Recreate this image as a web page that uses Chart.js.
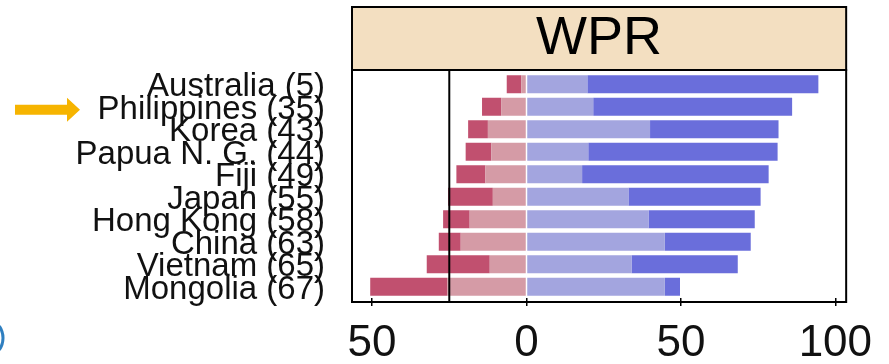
<!DOCTYPE html>
<html>
<head>
<meta charset="utf-8">
<script src="https://cdn.jsdelivr.net/npm/chart.js@4/dist/chart.umd.min.js"></script>
<style>
  html, body { margin: 0; padding: 0; background: #ffffff; }
  #wrap { width: 889px; height: 364px; position: relative; }
</style>
</head>
<body>
<div id="wrap"><canvas id="c" width="889" height="364"></canvas></div>
<script>
const countries = ['Australia (5)', 'Philippines (35)', 'Korea (43)', 'Papua N. G. (44)', 'Fiji (49)', 'Japan (55)', 'Hong Kong (58)', 'China (63)', 'Vietnam (65)', 'Mongolia (67)'];
const stronglyDisagree = [-4.7, -6.2, -6.4, -8.3, -9.4, -14.5, -8.6, -7.1, -20.4, -24.9];
const disagree = [-1.7, -8.2, -12.5, -11.4, -13.3, -10.9, -18.4, -21.3, -11.9, -25.7];
const agree = [19.7, 21.6, 40.0, 20.0, 18.0, 33.0, 39.5, 44.8, 34.0, 44.8];
const stronglyAgree = [74.8, 64.4, 41.6, 61.3, 60.4, 42.8, 34.4, 27.8, 34.4, 4.9];
const xTicks = [-50, 0, 50, 100];
const xMin = -56.5;
const xMax = 103.5;
const referenceLine = -25;
const panelTitle = 'WPR';
const highlighted = 'Philippines (35)';

const FONT = "'Liberation Sans', Arial, sans-serif";

const decor = {
  id: 'decor',
  beforeDraw(chart) {
    const ctx = chart.ctx;
    const a = chart.chartArea;
    ctx.save();
    ctx.fillStyle = '#f3dfc1';
    ctx.fillRect(a.left, 7, a.right - a.left, a.top - 3 - 7);
    ctx.restore();
  },
  afterDatasetsDraw(chart) {
    const ctx = chart.ctx;
    const a = chart.chartArea;
    const x = chart.scales.x;
    const y = chart.scales.y;
    ctx.save();
    // reference line
    const rx = x.getPixelForValue(referenceLine);
    ctx.strokeStyle = '#000';
    ctx.lineWidth = 2;
    ctx.beginPath();
    ctx.moveTo(rx, a.top - 3);
    ctx.lineTo(rx, a.bottom + 4);
    ctx.stroke();
    // frame
    ctx.lineWidth = 2;
    ctx.strokeRect(a.left, a.top - 3, a.right - a.left, a.bottom + 4 - (a.top - 3));
    // header box border
    ctx.strokeRect(a.left, 7, a.right - a.left, a.top - 3 - 7);
    // arrow by the highlighted country
    const idx = countries.indexOf(highlighted);
    const cy = y.getPixelForValue(idx) + 3;
    ctx.fillStyle = '#f6b400';
    ctx.beginPath();
    ctx.moveTo(15, cy - 5);
    ctx.lineTo(67, cy - 5);
    ctx.lineTo(67, cy - 12);
    ctx.lineTo(80, cy);
    ctx.lineTo(67, cy + 12);
    ctx.lineTo(67, cy + 5);
    ctx.lineTo(15, cy + 5);
    ctx.closePath();
    ctx.fill();
    // crop fragment at lower left
    ctx.strokeStyle = '#2f7fc0';
    ctx.lineWidth = 3;
    ctx.beginPath();
    ctx.arc(-18, 338, 21, -0.6, 0.6);
    ctx.stroke();
    ctx.restore();
  }
};

new Chart(document.getElementById('c'), {
  type: 'bar',
  data: {
    labels: countries,
    datasets: [
      { label: 'Disagree', data: disagree, backgroundColor: '#d59ba6' },
      { label: 'Strongly disagree', data: stronglyDisagree, backgroundColor: '#c1506f' },
      { label: 'Agree', data: agree, backgroundColor: '#a3a5df' },
      { label: 'Strongly agree', data: stronglyAgree, backgroundColor: '#6a6edb' }
    ]
  },
  options: {
    indexAxis: 'y',
    responsive: false,
    animation: false,
    devicePixelRatio: 1,
    layout: { padding: { left: 0, right: 41, top: 7, bottom: 0 } },
    datasets: { bar: { categoryPercentage: 1.0, barPercentage: 0.8, borderWidth: 0 } },
    plugins: {
      legend: { display: false },
      tooltip: { enabled: false },
      title: {
        display: true,
        text: panelTitle,
        fullSize: false,
        color: '#000',
        font: { family: FONT, size: 54, weight: 'normal', lineHeight: 1.0 },
        padding: { top: 5, bottom: 7 }
      }
    },
    scales: {
      x: {
        type: 'linear',
        stacked: true,
        min: xMin,
        max: xMax,
        afterBuildTicks(scale) { scale.ticks = xTicks.map(v => ({ value: v })); },
        afterFit(scale) { scale.height = 66; },
        border: { display: false },
        grid: { display: true, drawOnChartArea: false, drawTicks: true, tickLength: 8, color: '#000', lineWidth: 1.5 },
        ticks: {
          color: '#111',
          padding: 16,
          maxRotation: 0,
          font: { family: FONT, size: 44, lineHeight: 1.0 },
          callback: (v) => String(Math.abs(v))
        }
      },
      y: {
        stacked: true,
        afterFit(scale) { scale.width = 352; },
        border: { display: false },
        grid: { display: false },
        ticks: {
          autoSkip: false,
          color: '#111',
          padding: 19,
          labelOffset: 3,
          font: { family: FONT, size: 33, lineHeight: 1.0 }
        }
      }
    }
  },
  plugins: [decor]
});
</script>
</body>
</html>
